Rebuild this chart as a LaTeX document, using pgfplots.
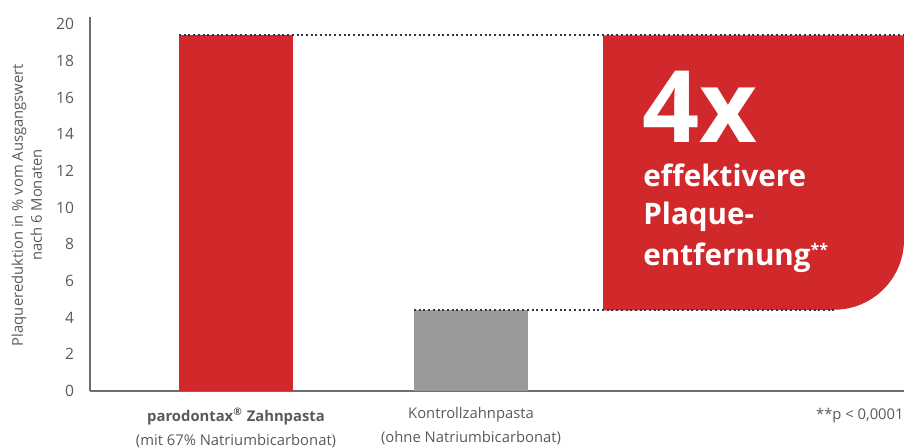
\documentclass[border=0pt]{standalone}
\usepackage{pgfplots}
\pgfplotsset{compat=1.18}
\usepackage{fontspec}
\setmainfont{Open Sans}
\definecolor{pred}{HTML}{D1292B}
\definecolor{pgray}{HTML}{9C999A}
\definecolor{axgray}{HTML}{6E6E6E}
\definecolor{txtgray}{HTML}{5A5A5A}
\definecolor{dotblue}{HTML}{2E3450}
\begin{document}
\begin{tikzpicture}
\begin{axis}[
  at={(0,0)}, anchor=south west,
  scale only axis, width=407pt, height=187pt,
  xmin=90, xmax=904, ymin=0, ymax=20.4,
  axis lines=left,
  axis line style={-, draw=axgray, line width=1pt},
  ytick={0,2,...,20},
  xtick={236,471},
  xticklabels={{\textbf{parodontax\textsuperscript{®} Zahnpasta}\\(mit 67\% Natriumbicarbonat)},{Kontrollzahnpasta\\(ohne Natriumbicarbonat)}},
  tick style={draw=none},
  /pgf/number format/assume math mode=true,
  yticklabel style={font=\fontsize{7.8}{9}\selectfont, text=txtgray, xshift=-2.3pt},
  xticklabel style={font=\fontsize{7.4}{12}\selectfont, text=txtgray, align=center, anchor=north, inner sep=0pt, yshift=-6pt},
  clip=false,
]
% callout box
\fill[pred] (axis cs:603,19.4) -- (axis cs:904,19.4) -- (axis cs:904,8.25)
  arc[start angle=0, end angle=-90, radius=35pt] -- (axis cs:603,4.4) -- cycle;
% bars
\addplot[ybar, bar shift=0pt, bar width=114, fill=pred, draw=none] coordinates {(236,19.4)};
\addplot[ybar, bar shift=0pt, bar width=114, fill=pgray, draw=none] coordinates {(471,4.4)};
% dotted reference lines
\addplot[dotblue, line width=1.1pt, dash pattern=on 1pt off 1.35pt, mark=none] coordinates {(179,19.4) (904,19.4)};
\addplot[dotblue, line width=1.1pt, dash pattern=on 1pt off 1.35pt, mark=none] coordinates {(414,4.4) (836,4.4)};
% callout text
\node[anchor=base west, inner sep=0pt, text=white, font=\fontsize{50}{50}\selectfont\bfseries] at (axis cs:642,13.58) {4x};
\node[anchor=base west, inner sep=0pt, text=white, font=\fontsize{14.8}{14.8}\selectfont\bfseries] at (axis cs:643,11.14) {effektivere};
\node[anchor=base west, inner sep=0pt, text=white, font=\fontsize{14.8}{14.8}\selectfont\bfseries] at (axis cs:643,9.06) {Plaque-};
\node[anchor=base west, inner sep=0pt, text=white, font=\fontsize{14.8}{14.8}\selectfont\bfseries] at (axis cs:643,6.87) {entfernung\raisebox{5pt}{\fontsize{8}{8}\selectfont **}};
% footnote
\node[anchor=base east, inner sep=0pt, text=txtgray, font=\fontsize{7.4}{9}\selectfont] at (axis cs:904,0) [yshift=-14pt] {**p < 0,0001};
\end{axis}
\node[rotate=90, align=center, text=txtgray, font=\fontsize{7.4}{9.5}\selectfont] at (-31.6pt,93pt) {Plaquereduktion in \% vom Ausgangswert\\nach 6 Monaten};
\pgfresetboundingbox
\path[use as bounding box] (-45pt,-28pt) rectangle (407pt,195.5pt);
\end{tikzpicture}
\end{document}
